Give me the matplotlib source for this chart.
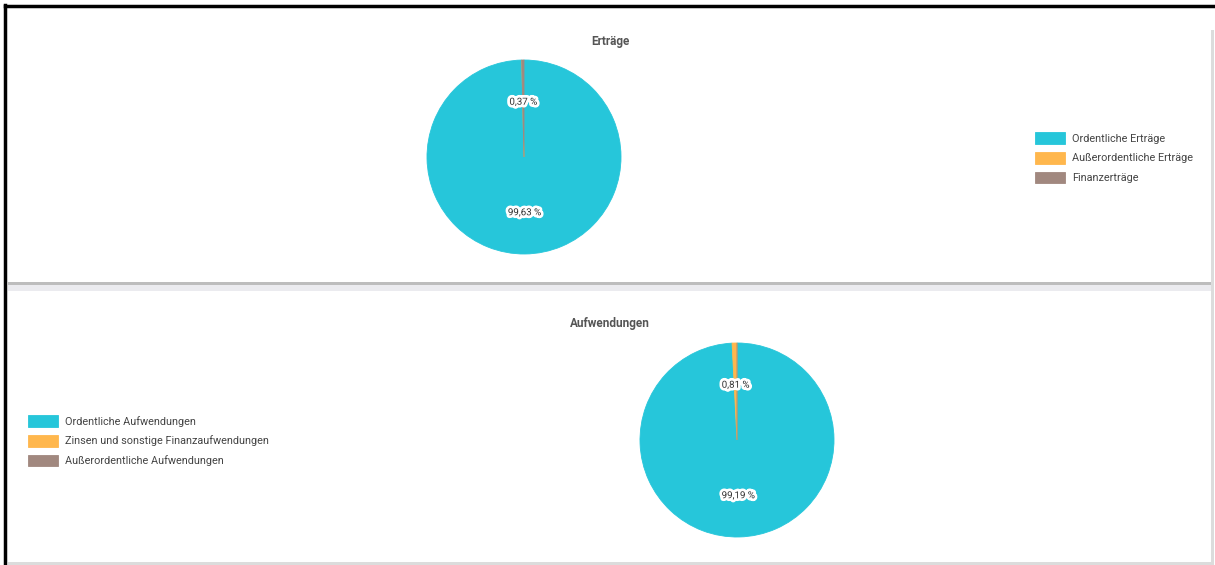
import matplotlib
matplotlib.use("Agg")
import matplotlib.pyplot as plt
import matplotlib.patheffects as pe
from matplotlib.patches import Rectangle

plt.rcParams['font.family'] = ['Roboto', 'DejaVu Sans']

# Erträge
ertraege_labels = ["Ordentliche Erträge", "Außerordentliche Erträge", "Finanzerträge"]
ertraege_werte = [99.63, 0.0, 0.37]

# Aufwendungen
aufw_labels = ["Ordentliche Aufwendungen", "Zinsen und sonstige Finanzaufwendungen",
               "Außerordentliche Aufwendungen"]
aufw_werte = [99.19, 0.81, 0.0]

farben = ["#26C6DA", "#FFB74D", "#A1887F"]

W, H = 1215, 565
fig = plt.figure(figsize=(W / 100, H / 100), dpi=100)
fig.patch.set_facecolor("white")


def fx(x):
    return x / W


def fy(y):
    return 1 - y / H


# background: screenshot frame and card shadows
bg = fig.add_axes([0, 0, 1, 1])
bg.set_xlim(0, W)
bg.set_ylim(H, 0)
bg.axis("off")
bg.add_patch(Rectangle((8, 282), 1204, 3, color="#bdbdbd", lw=0))
bg.add_patch(Rectangle((8, 285), 1204, 6, color="#ebebef", lw=0))
bg.add_patch(Rectangle((1211, 30), 3, 535, color="#dcdcdc", lw=0))
bg.add_patch(Rectangle((8, 562), 1204, 3, color="#dcdcdc", lw=0))
bg.plot([5, 5], [5, H], color="black", lw=2.5)
bg.plot([5, 1215], [6, 6], color="black", lw=2.5)


def fmt(pct):
    if pct < 0.05:
        return ""
    return f"{pct:.2f}".replace(".", ",") + " %"


def pie_panel(cx, cy, r, werte, labels, titel, ty, leg_x, leg_y):
    ax = fig.add_axes([fx(cx - r), fy(cy + r), 2 * r / W, 2 * r / H])
    wedges, texts, autotexts = ax.pie(
        werte, colors=farben, startangle=90, counterclock=False,
        autopct=fmt, pctdistance=0.57, radius=1.0,
        wedgeprops=dict(linewidth=0.6))
    for w in wedges:
        w.set_edgecolor(w.get_facecolor())
    for t in autotexts:
        t.set_fontsize(7)
        t.set_color("#333333")
        t.set_path_effects([pe.withStroke(linewidth=4, foreground="white")])
    ax.set_xlim(-1, 1)
    ax.set_ylim(-1, 1)
    ax.set_aspect("auto")
    ax.axis("off")
    fig.text(fx(610), fy(ty), titel, ha="center", va="center",
             fontsize=8.5, fontweight="bold", color="#555555")
    fig.legend(wedges, labels, loc="upper left",
               bbox_to_anchor=(fx(leg_x), fy(leg_y)), frameon=False,
               fontsize=7.8, handlelength=2.8, handleheight=1.3,
               handletextpad=0.6, labelspacing=0.74, borderpad=0,
               borderaxespad=0, labelcolor="#444444")


pie_panel(524, 157, 97, ertraege_werte, ertraege_labels, "Erträge", 41, 1035, 132)
pie_panel(737, 440, 97, aufw_werte, aufw_labels, "Aufwendungen", 324, 28, 415)

fig.savefig("out.png", dpi=100)
